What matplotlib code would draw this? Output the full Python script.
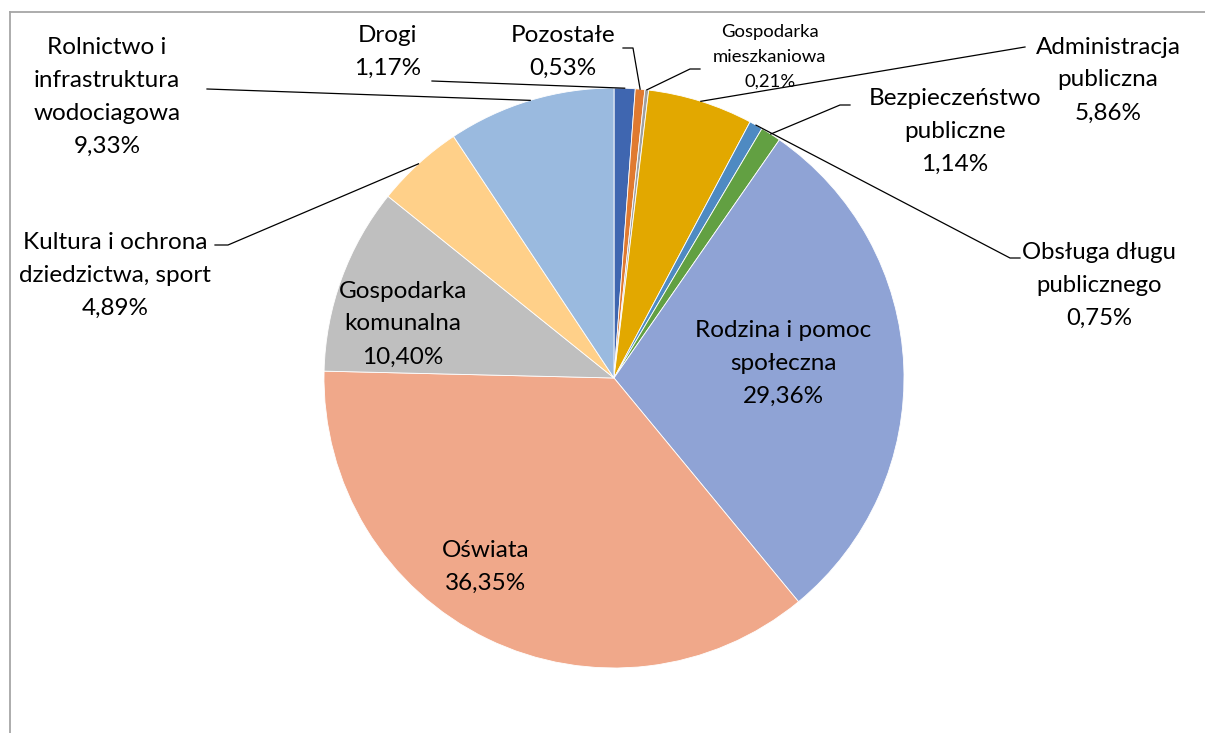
import matplotlib.pyplot as plt
import numpy as np

# --- DATA ---
categories = ['Drogi', 'Pozostałe', 'Gospodarka\nmieszkaniowa', 'Administracja\npubliczna',
              'Obsługa długu\npublicznego', 'Bezpieczeństwo\npubliczne', 'Rodzina i pomoc\nspołeczna',
              'Oświata', 'Gospodarka\nkomunalna', 'Kultura i ochrona\ndziedzictwa, sport',
              'Rolnictwo i\ninfrastruktura\nwodociagowa']
shares = [1.17, 0.53, 0.21, 5.86, 0.75, 1.14, 29.36, 36.35, 10.40, 4.89, 9.33]
colors = ['#3F66B0', '#E07A30', '#A0A0A0', '#E2A800', '#4E8AC2', '#62A042',
          '#8FA3D5', '#F0A88A', '#BFBFBF', '#FFD089', '#9ABADF']

# --- LAYOUT (pixel coordinates, y from top) ---
W, H = 1205, 733
CX, CY, R = 614, 378, 290
# label block centre, font size, leader points from label towards the wedge (None = inside label)
label_pos = [(388, 52), (563, 52), (770, 57), (1108, 80), (1099, 285), (955, 131),
             (783, 363), (486, 567), (403, 324), (115, 275), (107, 97)]
label_size = [17.5, 17.5, 13.3, 17.5, 17.2, 17.5, 17.5, 17.5, 17.5, 17.5, 17.5]
leaders = [[(432, 81)], [(623, 48), (633, 48)], [(700, 69), (690, 69)], [(1025, 47)],
           [(1020, 258), (1010, 258)], [(850, 105), (840, 105)], None, None, None,
           [(215, 245), (228, 245)], [(207, 89)]]

FONT = 'Lato'
TEXT = '#000000'

fig = plt.figure(figsize=(W / 100, H / 100), dpi=100)
ax = fig.add_axes([0, 0, 1, 1])

wedges, _ = ax.pie(shares, colors=colors, startangle=90, counterclock=False,
                   center=(CX, H - CY), radius=R,
                   wedgeprops=dict(edgecolor='white', linewidth=0.6))
ax.set_xlim(0, W)
ax.set_ylim(0, H)
ax.set_aspect('auto')
ax.axis('off')

for w, cat, val, pos, fs, lead in zip(wedges, categories, shares, label_pos, label_size, leaders):
    txt = f"{cat}\n{val:.2f}%".replace('.', ',')
    ax.text(pos[0], H - pos[1], txt, ha='center', va='center', multialignment='center',
            fontsize=fs, family=FONT, color=TEXT, linespacing=1.7)
    if lead is not None:
        mid = np.deg2rad((w.theta1 + w.theta2) / 2)
        ex = CX + R * np.cos(mid)
        ey = (H - CY) + R * np.sin(mid)
        xs = [p[0] for p in lead] + [ex]
        ys = [H - p[1] for p in lead] + [ey]
        ax.plot(xs, ys, color='black', lw=0.9)

# chart frame (cropped)
ax.plot([10, 10], [0, H - 12], color='#A6A6A6', lw=1.3)
ax.plot([10, W], [H - 12, H - 12], color='#A6A6A6', lw=1.3)

fig.savefig('out.png', dpi=100)
